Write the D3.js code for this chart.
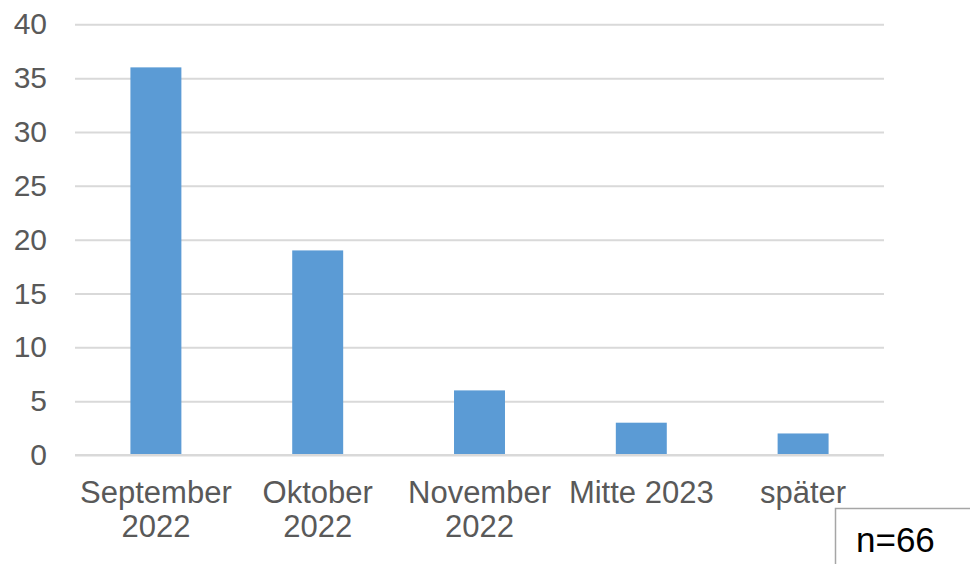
<!DOCTYPE html>
<html><head><meta charset="utf-8">
<script src="https://cdn.jsdelivr.net/npm/d3@7/dist/d3.min.js"></script>
<style>body{margin:0;background:#fff;}svg{display:block;}</style>
</head><body>
<svg id="c" width="970" height="564"></svg>
<script>
const categories = [["September","2022"],["Oktober","2022"],["November","2022"],["Mitte 2023"],["später"]];
const values = [36, 19, 6, 3, 2];
const yTicks = [0,5,10,15,20,25,30,35,40];
const note = "n=66";

const svg = d3.select("#c");
const font = "Liberation Sans, Arial, sans-serif";
const x = d3.scaleBand().domain(categories.map((d,i)=>i)).range([75,884]).paddingInner(0.685).paddingOuter(0.3425);
const y = d3.scaleLinear().domain([0,40]).range([455,24.3]);

// gridlines
const yAxis = d3.axisLeft(y).tickValues(yTicks).tickSize(-(884-75)).tickPadding(28);
const gy = svg.append("g").attr("transform","translate(75,0)").call(yAxis);
gy.select(".domain").remove();
gy.selectAll(".tick line").attr("stroke","#d9d9d9").attr("stroke-width",2);
gy.selectAll(".tick text").attr("fill","#595959").attr("font-family",font).attr("font-size",30);

// bars
svg.append("g").selectAll("rect").data(values).join("rect")
  .attr("x",(d,i)=>x(i)).attr("width",x.bandwidth())
  .attr("y",d=>y(d)).attr("height",d=>y(0)-y(d))
  .attr("fill","#5b9bd5");

// baseline
svg.append("line").attr("x1",75).attr("x2",884).attr("y1",y(0)).attr("y2",y(0)).attr("stroke","#d9d9d9").attr("stroke-width",2);

// x labels
const xl = svg.append("g").selectAll("text").data(categories).join("text")
  .attr("x",(d,i)=>x(i)+x.bandwidth()/2).attr("y",503)
  .attr("text-anchor","middle").attr("fill","#595959").attr("font-family",font).attr("font-size",31);
xl.selectAll("tspan").data(d=>d).join("tspan")
  .attr("x",function(){return this.parentNode.getAttribute("x");})
  .attr("dy",(d,i)=>i===0?0:34).text(d=>d);

// n box
svg.append("rect").attr("x",835.5).attr("y",508.5).attr("width",140).attr("height",60)
  .attr("fill","#fff").attr("stroke","#a6a6a6").attr("stroke-width",1.5);
svg.append("text").attr("x",856).attr("y",552).attr("fill","#000").attr("font-family",font).attr("font-size",35).text(note);
</script>
</body></html>
